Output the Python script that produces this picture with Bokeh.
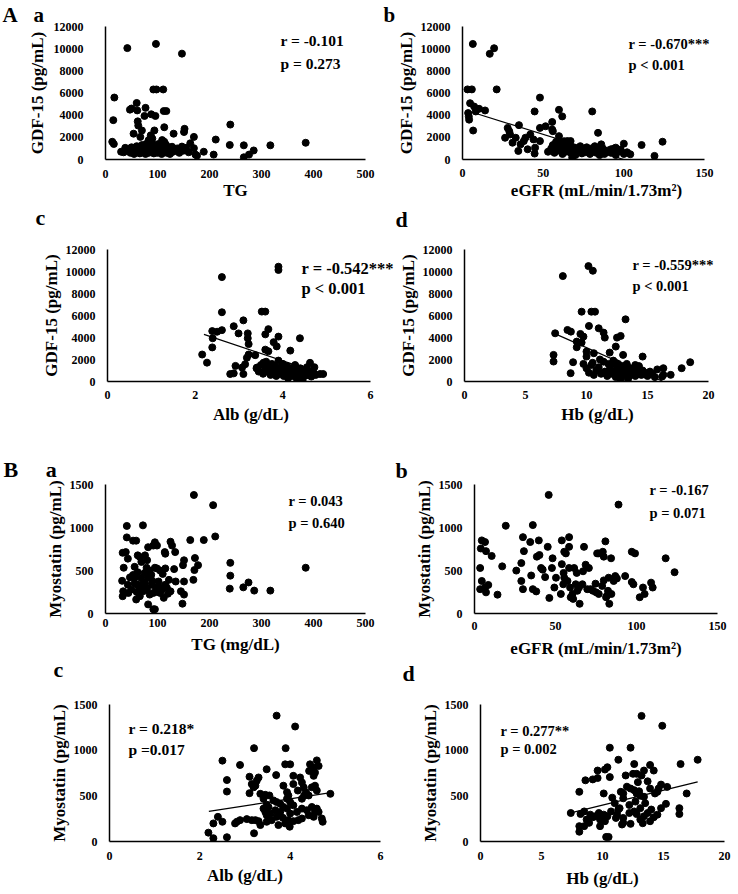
from bokeh.plotting import figure
from bokeh.models import Range1d, FixedTicker, Label, Title
from bokeh.layouts import column, row
from bokeh.embed import file_html
from bokeh.resources import INLINE

FONT = "Liberation Serif"
NB = "\u00a0"

# ---------------- data ----------------
# A-a : TG vs GDF-15
aa_points = [(42,10050),(97,10430),(147,9550),(92,6320),(98,6320),(111,6320),(17,5590),(60,5100),(50,4600),(47,4500),
             (61,4430),(77,4660),(112,4370),(117,4370),(88,4080),(96,3930),(75,3930),(15,3550),(62,3440),(63,3060),
             (240,3150),(113,2910),(70,2620),(94,2620),(152,2770),(151,2480),(131,2330),(54,2330),(67,2040),(87,2180),
             (90,1890),(83,1750),(170,2040),(212,1800),(109,1750),(113,1600),(13,1600),(16,1400),(163,1460),(239,1310),
             (266,1280),(317,1280),(385,1510),(147,1165),(170,1020),(285,815),(189,700),(208,440),(173,440),(176,350),
             (276,440),(266,200),
             (30,700),(35,650),(38,1050),(45,900),(48,600),(50,1100),(52,750),(55,500),(58,950),(60,1200),
             (62,700),(65,1000),(66,550),(68,850),(70,1300),(72,650),(74,1100),(75,900),(77,500),(78,1400),
             (80,750),(82,1050),(83,600),(85,1200),(86,900),(88,1500),(90,700),(91,1000),(93,550),(95,1300),
             (96,850),(98,1100),(100,600),(102,1400),(104,800),(106,1000),(108,500),(110,1200),(112,700),(114,950),
             (116,1350),(118,600),(120,850),(122,1100),(124,500),(126,900),(128,1150),(130,700),(134,850),(138,1000),
             (142,600),(145,900),(150,800),(155,1050),(160,650)]

# A-b : eGFR vs GDF-15
ab_points = [(6.4,10425),(16.9,9534),(19.6,10040),(21.2,6326),(3.1,6326),(5.8,6326),(4.7,5079),(7.2,4782),(8.2,4336),(10.3,4574),
             (14,4425),(3.5,4188),(3.9,3890),(4.1,3594),(6.6,2614),(48,5584),(35,3100),(44.7,4336),(59.8,4485),(61.8,3890),
             (80.4,4336),(55.6,3386),(51.5,3000),(48,2851),(55.6,2703),(56,2554),(28,2851),(29,2554),(29.5,2257),(26.4,1960),
             (31,1515),(33,1960),(39,1960),(42,2257),(38,1663),(36,1366),(44,1812),(48,1663),(40.4,921),(44.7,535),
             (34.6,772),(45,1069),(59.8,2109),(65,1663),(67,1663),(84,2406),(86,1366),(100,1426),(111,1307),(124,1604),
             (119,327),(68,178),(92,921),(104,475),(98,772),(95,1069),
             (53,700),(55,1000),(56,1300),(57,600),(58,900),(59,1200),(60,800),(61,1500),(62,500),(63,1100),
             (64,700),(65,1300),(66,900),(67,600),(68,1100),(69,800),(70,400),(71,1000),(72,700),(73,1200),
             (74,550),(75,900),(76,650),(77,1100),(78,800),(79,500),(80,1000),(81,700),(82,1200),(83,600),
             (84,900),(85,400),(86,750),(87,1000),(88,500),(90,800),(92,600),(94,1000),(95,400),(96,700),
             (98,900),(100,500),(102,650),(58,1600),(63,1650)]
ab_trend_x = [3, 100]
ab_trend_y = [4400, 0]

# A-c : Alb vs GDF-15
ac_points = [(3.9,10435),(3.9,10140),(2.61,9490),(2.61,6296),(3.52,6355),(3.6,6355),(3.1,5557),(2.88,5025),(2.99,4375),(3.2,4375),
             (3.2,3931),(2.39,4582),(2.5,4523),(2.61,4670),(3.67,4759),(3.6,4286),(3.9,4080),(4.39,3931),(2.4,3931),(3.79,3577),
             (3.86,3192),(3.22,3400),(2.39,3100),(2.16,2453),(2.27,1714),(3.6,2897),(3.67,2750),(4.17,2808),(3.22,2453),(3.37,2394),
             (3.18,2158),(3.07,1271),(3.14,1567),(2.92,1419),(3.56,1714),(3.64,1508),(2.8,680),(3.1,680),(3.41,1271),(2.88,739),
             (4.32,236),(4.39,89),(4.85,680),(4.92,680),(4.17,828),
             (3.4,1200),(3.45,900),(3.5,1500),(3.55,700),(3.6,1100),(3.62,1800),(3.65,900),(3.7,1300),(3.72,600),(3.75,1600),
             (3.78,1000),(3.8,800),(3.82,1400),(3.85,500),(3.88,1100),(3.9,1900),(3.92,700),(3.95,1300),(3.98,900),(4.0,1600),
             (4.02,500),(4.05,1100),(4.08,800),(4.1,1400),(4.12,300),(4.15,1000),(4.18,700),(4.2,1200),(4.22,500),(4.25,900),
             (4.28,1500),(4.3,650),(4.32,1100),(4.35,400),(4.38,850),(4.4,1200),(4.42,200),(4.45,700),(4.48,1000),(4.5,500),
             (4.52,800),(4.55,1300),(4.58,600),(4.6,900),(4.62,1700),(4.65,450),(4.7,800),(4.72,1300),(4.75,600),(4.45,100)]
ac_trend_x = [2.2, 4.9]
ac_trend_y = [4290, 670]

# A-d : Hb vs GDF-15
ad_points = [(8.06,9583),(10.16,10490),(10.52,10067),(9.6,6348),(10.4,6348),(10.7,6348),(13.2,5653),(7.43,4383),(8.44,4686),(8.72,4534),
             (9.5,4323),(9.75,4081),(10.2,5049),(11,4837),(11.4,4444),(11.5,3990),(12.5,3990),(12.8,4141),(9.2,3628),(9.6,3537),
             (10,2720),(10.6,2570),(11.9,2630),(12.4,3174),(13,2418),(9.2,3113),(7.3,2418),(7.3,1814),(8.9,1753),(8.7,756),
             (10,2267),(9.75,1602),(14.6,2267),(16.3,1209),(16.9,605),(16.3,605),(18.5,1753),(17.8,1209),(16.2,453),(13.4,212),
             (10,1200),(10.2,800),(10.4,1500),(10.6,600),(10.8,1000),(11,1300),(11.2,700),(11.4,1800),(11.5,900),(11.7,500),
             (11.9,1100),(12,1500),(12.1,700),(12.2,1900),(12.3,900),(12.4,400),(12.5,1200),(12.6,1600),(12.7,800),(12.8,200),
             (12.9,1000),(13,1400),(13.1,600),(13.2,1100),(13.3,800),(13.4,1300),(13.5,500),(13.6,1000),(13.7,700),(13.8,1200),
             (13.9,900),(14,500),(14.1,1100),(14.2,700),(14.3,1400),(14.4,900),(14.5,600),(14.6,1000),(14.8,800),(15,500),
             (15.2,900),(15.4,700),(15.6,400),(15.8,1100),(10.5,1700),(11.1,2000),(11.8,1600),(12.4,1700),(13.3,1600),(14,1500)]
ad_trend_x = [7.3, 16.2]
ad_trend_y = [4400, 50]

# B-a : TG vs Myostatin
ba_points = [(41,1018),(72,1025),(170,1378),(207,1260),(211,896),(189,854),(163,854),(41,885),(53,847),(59,847),
             (125,835),(33,706),(39,714),(95,828),(92,790),(99,790),(82,771),(128,790),(114,714),(115,695),
             (134,714),(62,676),(66,657),(76,676),(172,645),(151,619),(43,638),(69,600),(149,562),(178,562),
             (35,532),(56,543),(79,532),(95,532),(99,524),(115,524),(132,516),(171,505),(240,589),(385,532),
             (240,440),(151,372),(169,391),(32,380),(53,448),(56,418),(69,410),(82,418),(102,372),(122,391),
             (135,372),(43,334),(56,353),(62,334),(76,353),(89,334),(102,315),(115,334),(125,258),(145,258),
             (34,258),(44,239),(59,163),(76,296),(92,239),(105,239),(112,182),(151,220),(148,114),(82,106),
             (92,49),(95,49),(33,201),(239,289),(265,304),(275,361),(286,266),(317,266),(66,201),(72,258),
             (50,280),(60,250),(65,300),(70,330),(80,280),(85,220),(88,450),(90,380),(97,300),(100,250),
             (108,280),(110,460),(118,300),(120,230),(62,480),(75,470),(85,500),(105,500),(47,420),(80,620)]

# B-b : eGFR vs Myostatin
bb_points = [(45.8,1379),(88.9,1266),(19.3,1020),(36.0,1028),(4.5,850),(6.5,831),(29.9,888),(34.4,831),(39.7,850),(53.9,850),
             (58.4,888),(80.8,839),(3.9,756),(7.1,725),(10.6,669),(30.5,725),(45.2,775),(38.5,661),(40.1,680),(48.2,642),
             (58.4,775),(56.4,699),(55.4,718),(67.6,775),(75.7,699),(76.7,699),(79.8,661),(79.2,718),(84.3,642),(97.1,718),
             (99.1,699),(118,642),(123.5,480),(104,302),(110,302),(3.5,529),(4.5,378),(3.5,283),(6.5,302),(7.1,246),
             (8.5,332),(14.2,219),(17.1,548),(25.8,499),(28.9,586),(28.9,378),(29.9,283),(35.0,442),(36.0,283),(38.1,257),
             (41.1,529),(42.1,510),(43.6,423),(46.2,181),(47.8,529),(49.3,302),(50.3,416),(53.3,227),(53.9,574),(55.0,472),
             (55.4,416),(54.8,340),(58.4,529),(57.4,378),(59.0,302),(59.4,189),(60.9,170),(60.5,227),(61.5,529),(62.5,340),
             (63.1,472),(64.5,302),(63.5,264),(64.9,113),(66.6,340),(67.0,491),(68.6,567),(69.6,283),(70.6,529),(71.6,283),
             (73.1,264),(74.7,347),(75.1,246),(76.7,227),(78.8,321),(79.8,385),(81.2,189),(81.8,208),(82.4,264),(82.8,416),
             (83.2,113),(84.5,227),(85.9,378),(86.9,435),(87.9,408),(93.0,435),(97.1,366),(98.1,340),(102,189),(105,227),
             (109,359)]

# B-c : Alb vs Myostatin
bc_points = [(3.70,1378),(4.11,1259),(3.20,1022),(3.90,1022),(2.50,885),(2.89,838),(3.89,845),(4.00,845),(4.59,888),(4.63,827),
             (4.44,845),(3.48,791),(3.30,701),(3.69,727),(4.07,719),(4.22,701),(4.55,755),(4.52,719),(4.52,809),(4.42,773),
             (2.60,673),(3.10,709),(3.15,629),(3.26,665),(3.19,593),(3.23,611),(2.60,547),(3.10,529),(3.34,522),(3.45,511),
             (3.54,504),(3.85,611),(3.93,540),(3.96,504),(4.07,629),(4.17,558),(4.26,647),(4.30,593),(4.35,540),(4.41,504),
             (4.48,593),(4.55,611),(4.59,558),(4.26,468),(4.31,504),(4.89,522),(3.93,468),(4.00,432),(3.41,468),(3.63,450),
             (3.70,432),(3.78,413),(3.48,403),(3.52,378),(3.41,360),(3.45,324),(3.56,306),(3.67,342),(3.78,324),(3.85,378),
             (3.93,360),(4.00,306),(4.07,396),(4.15,324),(4.18,234),(4.07,223),(3.89,198),(3.99,162),(3.84,259),(3.70,270),
             (3.59,234),(3.48,288),(3.74,180),(3.96,234),(4.26,252),(4.41,288),(4.52,270),(4.26,360),(4.37,342),(4.48,378),
             (4.59,360),(4.63,324),(4.70,252),(4.72,216),(4.55,324),(3.48,216),(3.30,223),(3.34,180),(2.82,216),(2.89,234),
             (3.04,245),(3.15,234),(3.23,234),(2.30,198),(2.19,97),(2.30,36),(2.60,47),(2.40,270),(2.50,216),(2.78,198),
             (3.20,90)]
bc_trend_x = [2.2, 4.9]
bc_trend_y = [330, 536]

# B-d : Hb vs Myostatin
bd_points = [(13.2,1375),(14.9,1267),(10.6,1027),(12.3,1027),(11.3,895),(16.4,848),(17.8,895),(12.6,848),(13.9,838),(9.6,777),
             (10.4,813),(10.2,788),(14.2,777),(13.2,723),(13.4,777),(12.8,741),(11.9,723),(12.5,741),(9.6,695),(9.2,680),
             (8.6,670),(10.6,705),(13.7,659),(14.8,623),(14.6,580),(15.3,598),(8.1,544),(10.1,526),(10.8,480),(11.5,544),
             (11.7,526),(12.3,580),(12.6,562),(11.7,473),(12.8,526),(13.1,501),(13.4,490),(13.9,580),(14.3,526),(14.5,544),
             (16.9,526),(15.2,412),(16.3,365),(16.3,301),(14.8,365),(14.5,294),(14.2,265),(13.7,312),(13.1,365),(12.7,437),
             (13.4,276),(13.9,222),(13.1,240),(12.6,329),(12.2,312),(11.7,258),(11.4,365),(11.2,294),(11.7,204),(12.3,193),
             (11.6,186),(11.1,258),(10.7,329),(10.4,276),(10.1,294),(9.8,240),(10.2,222),(9.7,312),(9.4,276),(9.0,294),
             (8.7,240),(8.5,329),(8.2,301),(8.9,204),(8.5,168),(8.1,168),(7.4,312),(8.1,107),(10.3,50),(10.5,50),
             (9.2,265),(9.8,168),(12.0,600),(12.9,650),(13.5,420),(11.0,420),(12.2,400),(13.0,550),(11.3,350),(12.8,300),
             (13.3,200),(14.0,350)]
bd_trend_x = [7.4, 17.8]
bd_trend_y = [314, 653]

gdf_ticks = [0, 2000, 4000, 6000, 8000, 10000, 12000]
myo_ticks = [0, 500, 1000, 1500]
tg_ticks = [0, 100, 200, 300, 400, 500]
egfr_ticks = [0, 50, 100, 150]
alb_ticks = [0, 2, 4, 6]
hb_ticks = [0, 5, 10, 15, 20]


def letter_title(txt, x, L, standoff, size, valign):
    return Title(text=txt, align="left", offset=x - L, standoff=standoff, vertical_align=valign,
                 text_font=FONT, text_font_style="bold", text_font_size=f"{size}px",
                 text_color="black")


def panel(box, frame, xr, yr, xticks, yticks, points, xlabel, ylabel, texts,
          top_letter=None, bottom_letter=None,
          trend=None, ystand=12, ylabstand=2, xstand=9, xlabstand=2, tsize=15, ext_right=None):
    fx0, fy0, fx1, fy1 = box
    L, R, T, B = frame
    Rf = R if ext_right is None else ext_right
    x_end = xr[0] + (Rf - L) / (R - L) * (xr[1] - xr[0])
    p = figure(width=fx1 - fx0, height=fy1 - fy0,
               x_range=Range1d(xr[0], x_end), y_range=Range1d(*yr),
               output_backend="svg", toolbar_location=None, title=None,
               min_border_left=L - fx0, min_border_right=fx1 - Rf,
               min_border_top=T - fy0, min_border_bottom=fy1 - B)
    p.outline_line_color = None
    p.grid.visible = False
    p.background_fill_color = "white"
    p.border_fill_color = "white"
    for ax in (p.xaxis[0], p.yaxis[0]):
        ax.axis_line_color = "black"
        ax.axis_line_width = 1.5
        ax.major_tick_line_color = None
        ax.minor_tick_line_color = None
        ax.major_tick_out = 0
        ax.major_tick_in = 0
        ax.major_label_text_font = FONT
        ax.major_label_text_font_style = "bold"
        ax.major_label_text_font_size = "12px"
        ax.major_label_text_color = "black"
        ax.axis_label_text_font = FONT
        ax.axis_label_text_font_style = "bold"
        ax.axis_label_text_font_size = "17px"
        ax.axis_label_text_color = "black"
    p.xaxis.ticker = FixedTicker(ticks=xticks)
    p.yaxis.ticker = FixedTicker(ticks=yticks)
    p.xaxis.bounds = (xr[0], xr[1])
    p.xaxis.axis_label = xlabel
    p.yaxis.axis_label = ylabel
    p.yaxis.major_label_standoff = ystand
    p.yaxis.axis_label_standoff = ylabstand
    p.xaxis.major_label_standoff = xstand
    p.xaxis.axis_label_standoff = xlabstand

    xs = [pt[0] for pt in points]
    ys = [pt[1] for pt in points]
    p.scatter(xs, ys, size=7, color="black", marker="circle")
    if trend is not None:
        p.line(trend[0], trend[1], line_color="black", line_width=1.2)

    def dx(px):
        return xr[0] + (px - L) / (R - L) * (xr[1] - xr[0])

    def dy(py):
        return yr[0] + (B - py) / (B - T) * (yr[1] - yr[0])

    for (txt, px, py) in texts:
        p.add_layout(Label(x=dx(px), y=dy(py), text=txt, text_font=FONT,
                           text_font_style="bold", text_font_size=f"{tsize}px",
                           text_baseline="middle", text_align="left", text_color="black"))
    if top_letter is not None:
        ltxt, lx, lstand, lsize = top_letter
        p.add_layout(letter_title(ltxt, lx, L, lstand, lsize, "bottom"), "above")
    if bottom_letter is not None:
        ltxt, lx, lstand, lsize = bottom_letter
        p.add_layout(letter_title(ltxt, lx, L, lstand, lsize, "top"), "below")
    return p


GDF = "GDF-15 (pg/mL)"
MYO = "Myostatin (pg/mL)"
EGFR = "eGFR (mL/min/1.73m\u00b2)"

R1, R2, R3, R4 = 238, 440, 691, 892

pAa = panel((0, 0, 378, R1), (105, 365, 23, 160), (0, 500), (0, 12000), tg_ticks, gdf_ticks,
            aa_points, "TG", GDF,
            [("r = -0.101", 280, 37), ("p = 0.273", 280, 61)],
            top_letter=("A" + NB * 3 + "a", 2, 0, 21), bottom_letter=("c", 35, 5, 22),
            ystand=22, ylabstand=4, xstand=10, xlabstand=0, tsize=15.5)
pAb = panel((378, 0, 736, R1), (462, 704, 24, 159), (0, 150), (0, 12000), egfr_ticks, gdf_ticks,
            ab_points, EGFR, GDF,
            [("r = -0.670***", 628, 42), ("p < 0.001", 628, 63)],
            top_letter=("b", 383, 0, 21), bottom_letter=("d", 395, 9, 22),
            trend=(ab_trend_x, ab_trend_y), xstand=9, xlabstand=1, tsize=14.5, ext_right=730)
pAc = panel((0, R1, 394, R2), (107, 370, 246, 381), (0, 6), (0, 12000), alb_ticks, gdf_ticks,
            ac_points, "Alb (g/dL)", GDF,
            [("r = -0.542***", 301, 265), ("p < 0.001", 301, 286)],
            trend=(ac_trend_x, ac_trend_y), xstand=9, xlabstand=3, tsize=16.5, ext_right=394)
pAd = panel((394, R1, 736, R2), (464, 708, 249, 382), (0, 20), (0, 12000), hb_ticks, gdf_ticks,
            ad_points, "Hb (g/dL)", GDF,
            [("r = -0.559***", 632, 265), ("p < 0.001", 632, 286)],
            trend=(ad_trend_x, ad_trend_y), xstand=9, xlabstand=3, tsize=14.5, ext_right=730)
pBa = panel((0, R2, 378, R3), (105, 365, 484, 616), (0, 500), (0, 1500), tg_ticks, myo_ticks,
            ba_points, "TG (mg/dL)", MYO,
            [("r = 0.043", 288, 501), ("p = 0.640", 288, 523)],
            top_letter=("B" + NB * 5 + "a", 3, 6, 22), bottom_letter=("c", 53, 0, 22),
            xstand=5, xlabstand=5, tsize=14.5)
pBb = panel((378, R2, 736, R3), (474, 717, 481, 613), (0, 150), (0, 1500), egfr_ticks, myo_ticks,
            bb_points, EGFR, MYO,
            [("r = -0.167", 649, 487), ("p = 0.071", 649, 510)],
            top_letter=("b", 395, 4, 22), bottom_letter=("d", 402, 0, 22),
            xstand=8, xlabstand=6, tsize=14.5)
pBc = panel((0, R3, 392, R4), (109, 380, 704, 844), (0, 6), (0, 1500), alb_ticks, myo_ticks,
            bc_points, "Alb (g/dL)", MYO,
            [("r =  0.218*", 128, 729), ("p =0.017", 128, 750)],
            trend=(bc_trend_x, bc_trend_y), xstand=10, xlabstand=3, tsize=15.5)
pBd = panel((392, R3, 736, R4), (480, 724, 701, 841), (0, 20), (0, 1500), hb_ticks, myo_ticks,
            bd_points, "Hb (g/dL)", MYO,
            [("r = 0.277**", 500, 728), ("p = 0.002", 500, 746)],
            trend=(bd_trend_x, bd_trend_y), xstand=10, xlabstand=6, tsize=14.5)

layout = column(row(pAa, pAb), row(pAc, pAd), row(pBa, pBb), row(pBc, pBd))

open("out.html", "w").write(file_html(layout, INLINE))
